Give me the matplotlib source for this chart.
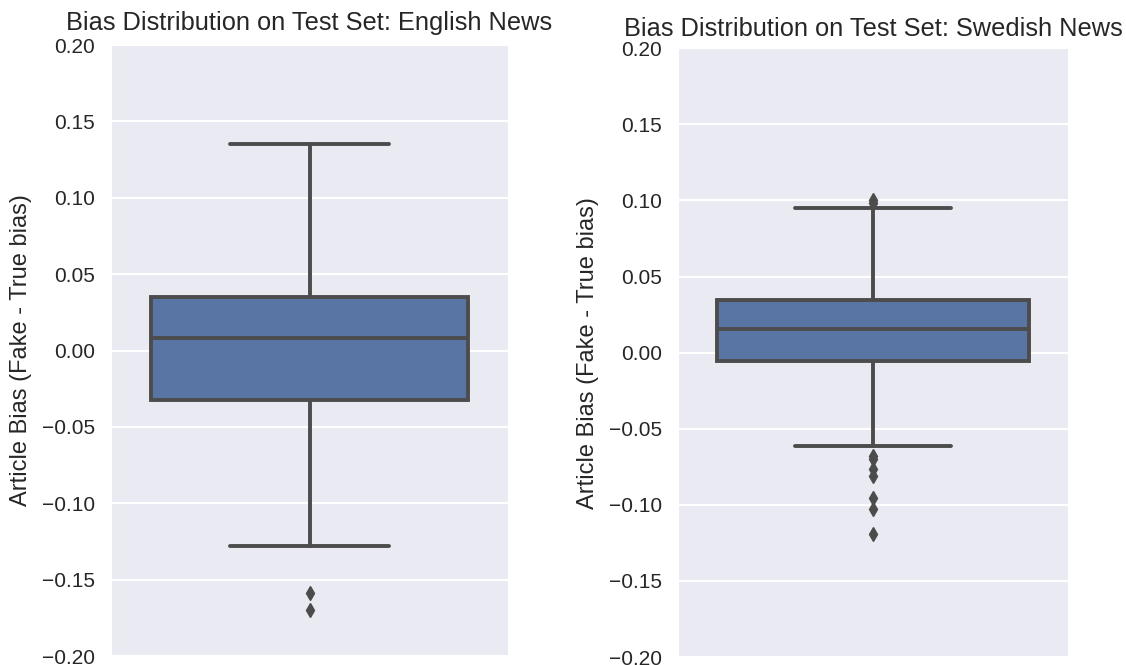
import numpy as np
import matplotlib.pyplot as plt
import seaborn as sns

sns.set_style("darkgrid")
plt.rcParams['font.family'] = ['Liberation Sans', 'DejaVu Sans']

titles = ["Bias Distribution on Test Set: English News",
          "Bias Distribution on Test Set: Swedish News"]
ylabel = "Article Bias (Fake - True bias)"

# box statistics
english_stats = dict(whislo=-0.128, q1=-0.0325, med=0.0085, q3=0.035, whishi=0.135,
                     fliers=[-0.159, -0.170])
swedish_stats = dict(whislo=-0.0615, q1=-0.0055, med=0.0155, q3=0.0345, whishi=0.095,
                     fliers=[0.098, 0.100, -0.068, -0.070, -0.0765, -0.081,
                             -0.0955, -0.1025, -0.119])
yticks = [-0.20, -0.15, -0.10, -0.05, 0.00, 0.05, 0.10, 0.15, 0.20]

box_color = "#5875a4"
line_color = "#4c4c4c"

fig = plt.figure(figsize=(11.26, 6.65), dpi=100)
ax1 = fig.add_axes([0.0986, 0.0135, 0.3526, 0.9188])
ax2 = fig.add_axes([0.6021, 0.0120, 0.3464, 0.9155])

for ax, stats, title, pad in [(ax1, english_stats, titles[0], 11),
                              (ax2, swedish_stats, titles[1], 9)]:
    ax.bxp([stats], positions=[0], widths=0.8, patch_artist=True, showfliers=True,
           boxprops=dict(facecolor=box_color, edgecolor=line_color, linewidth=2.8),
           medianprops=dict(color=line_color, linewidth=2.8),
           whiskerprops=dict(color=line_color, linewidth=2.8),
           capprops=dict(color=line_color, linewidth=2.8),
           flierprops=dict(marker='d', markerfacecolor=line_color, markeredgecolor=line_color,
                           markersize=7))
    ax.set_xlim(-0.5, 0.5)
    ax.set_ylim(-0.2, 0.2)
    ax.set_yticks(yticks)
    ax.set_yticklabels([f"{t:.2f}".replace("-", "\u2212") for t in yticks])
    ax.set_xticks([])
    ax.grid(color='white', linewidth=1.5)
    ax.tick_params(axis='y', labelsize=15, colors='#262626', pad=8)
    ax.set_ylabel(ylabel, fontsize=17, color='#262626', labelpad=7)
    ax.set_title(title, fontsize=18.3, color='#262626', pad=pad)

plt.savefig("out.png", dpi=100)
